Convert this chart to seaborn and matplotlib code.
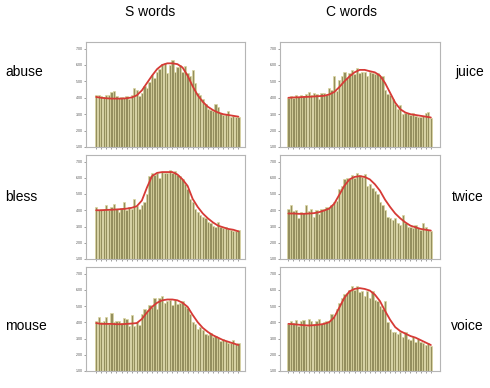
import numpy as np
import matplotlib
matplotlib.use("Agg")
from matplotlib import pyplot as plt
import seaborn as sns

# bar heights per word (57 bins each)
abuse_bars = [4.15, 4.2, 4.1, 4.05, 4.2, 4.15, 4.35, 4.4, 4.1, 4.0,
              4.05, 4.0, 4.1, 3.95, 4.15, 4.6, 4.45, 4.1, 4.3, 4.7,
              4.6, 4.95, 5.4, 5.2, 5.6, 5.75, 6.05, 6.15, 5.5, 6.0,
              6.3, 5.6, 5.9, 6.0, 5.55, 5.95, 5.5, 5.3, 5.7, 4.9,
              4.3, 4.2, 3.9, 3.6, 3.3, 3.25, 3.2, 3.6, 3.45, 3.1,
              2.95, 3.0, 3.2, 2.85, 2.9, 2.85, 2.85]
juice_bars = [4.0, 4.1, 4.0, 4.2, 4.05, 4.2, 4.1, 4.25, 4.35, 4.2,
              4.3, 4.25, 3.95, 4.3, 4.3, 4.15, 4.6, 4.45, 5.3, 4.4,
              5.1, 5.35, 5.6, 5.2, 5.5, 5.7, 5.45, 5.8, 5.5, 5.55,
              5.6, 5.3, 5.55, 5.5, 5.45, 5.5, 5.3, 5.35, 4.5, 4.25,
              4.2, 3.9, 3.6, 3.3, 3.55, 3.0, 3.1, 3.05, 2.95, 3.05,
              2.9, 2.85, 2.8, 2.9, 3.1, 3.15, 2.75]
bless_bars = [4.2, 4.0, 4.1, 4.05, 4.35, 4.0, 4.2, 4.4, 4.1, 3.9,
              4.15, 4.5, 4.0, 4.2, 4.05, 4.7, 4.25, 4.1, 4.3, 4.5,
              5.0, 6.1, 6.3, 6.2, 6.3, 6.0, 6.35, 6.3, 6.3, 6.5,
              6.3, 6.4, 6.2, 6.1, 5.9, 5.6, 5.3, 4.7, 4.5, 4.1,
              3.9, 3.7, 3.6, 3.5, 3.3, 3.2, 3.05, 3.0, 3.3, 3.0,
              2.9, 2.95, 2.85, 2.8, 2.75, 2.7, 2.8]
twice_bars = [4.1, 4.3, 3.95, 4.0, 3.5, 3.9, 3.85, 4.3, 3.95, 4.1,
              3.6, 4.0, 3.8, 4.1, 4.05, 4.2, 4.15, 4.3, 4.5, 4.6,
              5.3, 5.5, 5.95, 6.0, 5.9, 6.2, 6.0, 6.3, 6.2, 6.05,
              6.25, 5.5, 5.6, 5.4, 5.2, 5.0, 4.5, 4.3, 4.0, 3.6,
              3.5, 3.4, 3.5, 3.2, 3.1, 3.7, 3.2, 3.0, 3.0, 2.9,
              3.1, 2.9, 2.8, 3.2, 3.0, 2.8, 2.75]
mouse_bars = [4.05, 4.3, 4.0, 4.1, 4.3, 3.9, 4.55, 4.0, 4.1, 4.1,
              3.95, 4.25, 4.2, 3.8, 4.45, 3.8, 4.0, 3.85, 4.5, 4.8,
              4.75, 5.05, 4.95, 5.5, 4.8, 5.5, 5.6, 5.2, 5.3, 5.35,
              5.05, 5.35, 5.1, 5.2, 5.3, 5.0, 4.85, 4.5, 4.0, 3.9,
              3.6, 3.7, 3.5, 3.3, 3.2, 3.35, 3.1, 3.15, 3.05, 2.85,
              2.95, 2.85, 2.75, 2.7, 2.9, 2.65, 2.75]
voice_bars = [3.9, 4.1, 3.95, 4.15, 3.8, 4.1, 4.15, 3.8, 4.2, 4.05,
              3.9, 4.05, 4.2, 3.9, 4.0, 4.1, 4.05, 4.5, 4.3, 4.8,
              5.2, 5.5, 5.75, 5.8, 6.0, 6.25, 6.0, 6.25, 5.85, 5.9,
              5.6, 5.9, 5.5, 5.9, 5.4, 5.3, 5.0, 4.8, 5.3, 4.0,
              3.6, 3.4, 3.4, 3.25, 3.4, 3.1, 3.4, 3.0, 2.9, 3.1,
              2.8, 3.0, 2.8, 2.7, 2.6, 2.75, 2.55]

# fitted curve, read at every second bin (29 points)
abuse_fit = [4.05, 4.0, 3.97, 3.95, 3.95, 3.95, 3.97, 4.02, 4.15, 4.45,
             4.9, 5.35, 5.75, 6.0, 6.1, 6.1, 6.05, 5.85, 5.35, 4.7,
             4.15, 3.75, 3.45, 3.25, 3.1, 3.0, 2.95, 2.9, 2.85]
juice_fit = [4.0, 4.02, 4.03, 4.05, 4.06, 4.08, 4.1, 4.12, 4.2, 4.35,
             4.65, 5.0, 5.3, 5.55, 5.7, 5.7, 5.62, 5.55, 5.35, 4.9,
             4.3, 3.7, 3.3, 3.1, 3.0, 2.95, 2.9, 2.85, 2.8]
bless_fit = [4.0, 4.0, 4.02, 4.03, 4.05, 4.07, 4.1, 4.15, 4.25, 4.6,
             5.4, 6.1, 6.3, 6.35, 6.35, 6.35, 6.2, 5.9, 5.5, 4.7,
             4.2, 3.8, 3.5, 3.25, 3.05, 2.95, 2.85, 2.8, 2.7]
twice_fit = [3.8, 3.8, 3.78, 3.78, 3.8, 3.82, 3.88, 3.98, 4.1, 4.4,
             4.95, 5.5, 5.9, 6.05, 6.1, 6.05, 5.9, 5.6, 5.2, 4.65,
             4.2, 3.8, 3.5, 3.25, 3.05, 2.95, 2.85, 2.8, 2.75]
mouse_fit = [3.95, 3.9, 3.9, 3.9, 3.88, 3.88, 3.9, 3.92, 3.95, 4.2,
             4.6, 4.95, 5.2, 5.35, 5.4, 5.4, 5.35, 5.2, 4.95, 4.45,
             4.0, 3.65, 3.4, 3.2, 3.05, 2.9, 2.8, 2.7, 2.6]
voice_fit = [3.9, 3.88, 3.85, 3.82, 3.8, 3.82, 3.85, 3.9, 4.0, 4.3,
             4.9, 5.5, 5.9, 6.05, 6.1, 6.05, 5.95, 5.7, 5.3, 4.7,
             4.15, 3.7, 3.45, 3.3, 3.15, 3.05, 2.9, 2.75, 2.6]

col_titles = ["S words", "C words"]
left_words = ["abuse", "bless", "mouse"]
right_words = ["juice", "twice", "voice"]
y_ticks = [1, 2, 3, 4, 5, 6, 7]

panels = [[(abuse_bars, abuse_fit), (juice_bars, juice_fit)],
          [(bless_bars, bless_fit), (twice_bars, twice_fit)],
          [(mouse_bars, mouse_fit), (voice_bars, voice_fit)]]

sns.set_style("white")
plt.rcParams['font.family'] = ['Liberation Sans', 'DejaVu Sans']

fig = plt.figure(figsize=(4.9, 3.88), dpi=100)

lefts = [86 / 490, 280 / 490]
widths = [159 / 490, 160 / 490]
tops = [42, 155, 267]
bottoms = [147, 259, 371]
xlims = [(-4.0, 58.6), (-3.3, 59.6)]

for r in range(3):
    for c in range(2):
        bars, fit = panels[r][c]
        ax = fig.add_axes([lefts[c], 1 - bottoms[r] / 388,
                           widths[c], (bottoms[r] - tops[r]) / 388])
        x = np.arange(len(bars))
        sns.barplot(x=x, y=bars, ax=ax, color="#948f5e", saturation=1,
                    width=0.92, edgecolor="#dcd7a0", linewidth=0.5)
        sns.lineplot(x=x[::2], y=fit, ax=ax, color="#d63a36",
                     linewidth=1.3)
        ax.set_xlim(*xlims[c])
        ax.set_ylim(1, 7.4)
        ax.set_yticks(y_ticks)
        ax.set_yticklabels([f"{v:.2f}" for v in y_ticks])
        ax.set_xticks(x[::2])
        ax.set_xticklabels([])
        ax.tick_params(axis="y", labelsize=2.6, colors="#555555",
                       length=1.5, width=0.4, pad=1, left=True)
        ax.tick_params(axis="x", length=1.5, width=0.4, colors="#555555",
                       bottom=True)
        for s in ax.spines.values():
            s.set_color("#b5b5b5")
            s.set_linewidth(0.8)
        ax.set_xlabel("")
        ax.set_ylabel("")

fig.text(150 / 490, 1 - 12 / 388, col_titles[0], ha="center", va="center",
         fontsize=10, color="black")
fig.text(352 / 490, 1 - 12 / 388, col_titles[1], ha="center", va="center",
         fontsize=10, color="black")
for word, y in zip(left_words, [72, 197, 326]):
    fig.text(5 / 490, 1 - y / 388, word, ha="left", va="center", fontsize=10,
             color="black")
for word, y in zip(right_words, [72, 197, 326]):
    fig.text(484 / 490, 1 - y / 388, word, ha="right", va="center",
             fontsize=10, color="black")

fig.savefig("out.png", dpi=100)
